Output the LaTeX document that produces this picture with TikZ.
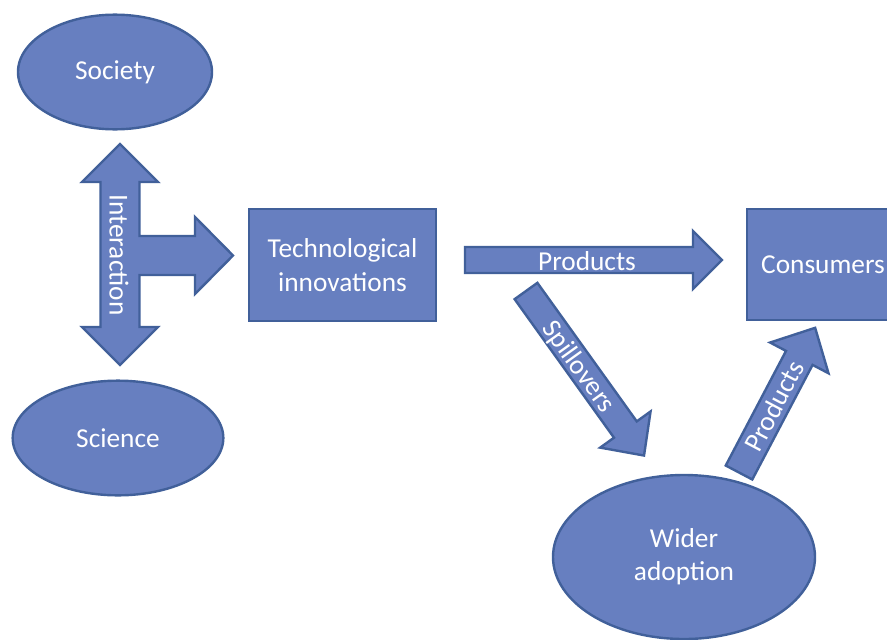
\documentclass[tikz,border=0pt]{standalone}
\usepackage{fontspec}
\setmainfont{Carlito}
\usetikzlibrary{shapes.geometric}
\definecolor{bfill}{HTML}{677FC0}
\definecolor{bline}{HTML}{41609A}
\tikzset{
  shapestyle/.style={draw=bline, fill=bfill, line width=1.8pt, text=white,
    font=\fontsize{20.5}{25}\selectfont, align=center, inner sep=0pt},
  ellipsebox/.style={shapestyle, ellipse},
  rectbox/.style={shapestyle, rectangle},
  arrowbody/.style={draw=bline, fill=bfill, line width=1.8pt, line join=miter},
  arrowlabel/.style={text=white, font=\fontsize{20.5}{25}\selectfont, inner sep=0pt}
}
\newcommand\blockarr[4]{% length, shaft half, head half, head length
  \draw[arrowbody] (0,-#2) -- (#1-#4,-#2) -- (#1-#4,-#3) -- (#1,0) -- (#1-#4,#3) -- (#1-#4,#2) -- (0,#2) -- cycle;}
\begin{document}
\begin{tikzpicture}[x=0.75pt,y=-0.75pt]
\useasboundingbox (0,0) rectangle (887,639);
\fill[white] (0,0) rectangle (887,639);

% nodes
\node[ellipsebox, minimum width=145.5pt, minimum height=86pt] (society) at (115,72) {Society};
\node[ellipsebox, minimum width=158pt, minimum height=86pt] (science) at (118,438) {Science};
\node[rectbox, minimum width=140pt, minimum height=84pt] (tech) at (342.5,265) {Technological\\innovations};
\node[rectbox, minimum width=114pt, minimum height=83pt] (cons) at (823,264.5) {Consumers};
\node[ellipsebox, minimum width=196.5pt, minimum height=123pt] (wider) at (684,557) {Wider\\adoption};

% interaction cross arrow
\draw[arrowbody] (120,144) -- (158,182) -- (139.5,182) -- (139.5,236) -- (195,236) -- (195,217)
  -- (233,255.5) -- (195,294) -- (195,275) -- (139.5,275) -- (139.5,327) -- (158,327)
  -- (120,365) -- (82,327) -- (100.5,327) -- (100.5,182) -- (82,182) -- cycle;
\node[arrowlabel, rotate=-90] (interlbl) at (119,255) {Interaction};

% products horizontal
\begin{scope}[shift={(465,260)}]
  \blockarr{257}{13}{29}{29}
\end{scope}
\node[arrowlabel] (prodlbl) at (587,261) {Products};

% spillovers
\begin{scope}[shift={(526,291)}, rotate=-54.35]
  \blockarr{202.5}{14}{31}{32}
\end{scope}
\node[arrowlabel, rotate=-54.35] (spilllbl) at (578,367) {Spillovers};

% products diagonal
\begin{scope}[shift={(739,472.5)}, rotate=62.25]
  \blockarr{163.5}{15}{33}{34}
\end{scope}
\node[arrowlabel, rotate=62.25] (prod2lbl) at (774,406) {Products};
\end{tikzpicture}
\end{document}
